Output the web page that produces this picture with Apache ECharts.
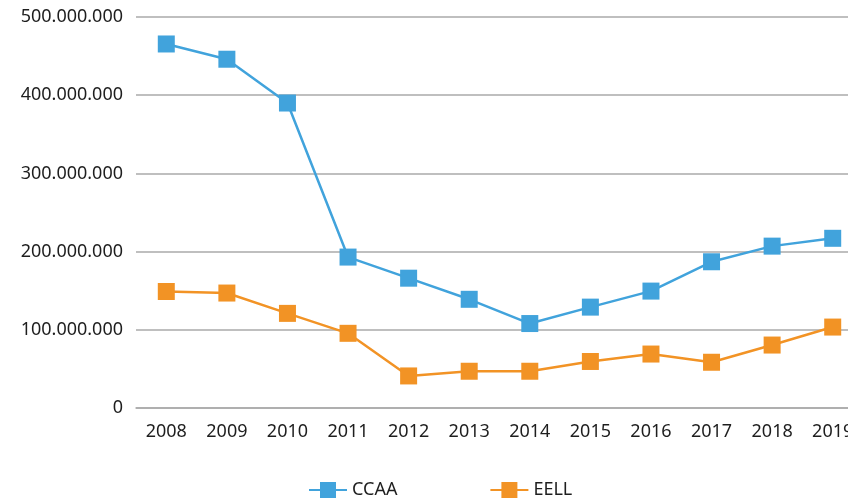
<!DOCTYPE html>
<html>
<head>
<meta charset="utf-8">
<script src="https://cdn.jsdelivr.net/npm/echarts@6/dist/echarts.min.js"></script>
<style>
  html, body { margin: 0; padding: 0; overflow: hidden; background: #fff; }
  #chart-div { width: 870px; height: 499px; }
</style>
</head>
<body>
<div id="chart-div"></div>
<script>
// vuodet ja sarjat
const years = ['2008', '2009', '2010', '2011', '2012', '2013', '2014', '2015', '2016', '2017', '2018', '2019']
const ccaa = [465500000, 446000000, 390000000, 193000000, 166000000, 139000000, 108000000, 129000000, 149500000, 187000000, 207000000, 217000000]
const eell = [149000000, 147000000, 121000000, 95500000, 41000000, 47000000, 47000000, 59500000, 69000000, 58500000, 80500000, 103500000]

const blue = '#41a3dc'
const orange = '#f29325'

// tuhaterottimena piste
function formatNum(v) {
    return String(v).replace(/\B(?=(\d{3})+(?!\d))/g, '.')
}

let myChart = echarts.init(document.getElementById('chart-div'))

const option = {
    animation: false,
    textStyle: { fontFamily: 'Noto Sans' },
    grid: { left: 136, right: 7, top: 17, bottom: 91, containLabel: false },
    legend: {
        top: 476,
        left: 303,
        itemWidth: 38,
        itemHeight: 20,
        itemGap: 92,
        textStyle: { fontSize: 18, color: '#1e1e1e', fontFamily: 'Noto Sans' },
        data: ['CCAA', 'EELL']
    },
    xAxis: {
        type: 'category',
        data: years,
        boundaryGap: true,
        axisLine: { show: true, lineStyle: { color: '#aaa', width: 1.5 } },
        axisTick: { show: false },
        axisLabel: { fontSize: 18, color: '#1e1e1e', margin: 15 }
    },
    yAxis: {
        type: 'value',
        min: 0,
        max: 500000000,
        interval: 100000000,
        axisLine: { show: false },
        axisTick: { show: false },
        splitLine: { lineStyle: { color: '#aaa', width: 1.5 } },
        axisLabel: { fontSize: 18, color: '#1e1e1e', margin: 13, formatter: formatNum }
    },
    series: [
        {
            name: 'CCAA',
            type: 'line',
            data: ccaa,
            symbol: 'rect',
            symbolSize: 17,
            itemStyle: { color: blue },
            lineStyle: { color: blue, width: 2.5 }
        },
        {
            name: 'EELL',
            type: 'line',
            data: eell,
            symbol: 'rect',
            symbolSize: 17,
            itemStyle: { color: orange },
            lineStyle: { color: orange, width: 2.5 }
        }
    ]
}

myChart.setOption(option)
</script>
</body>
</html>
